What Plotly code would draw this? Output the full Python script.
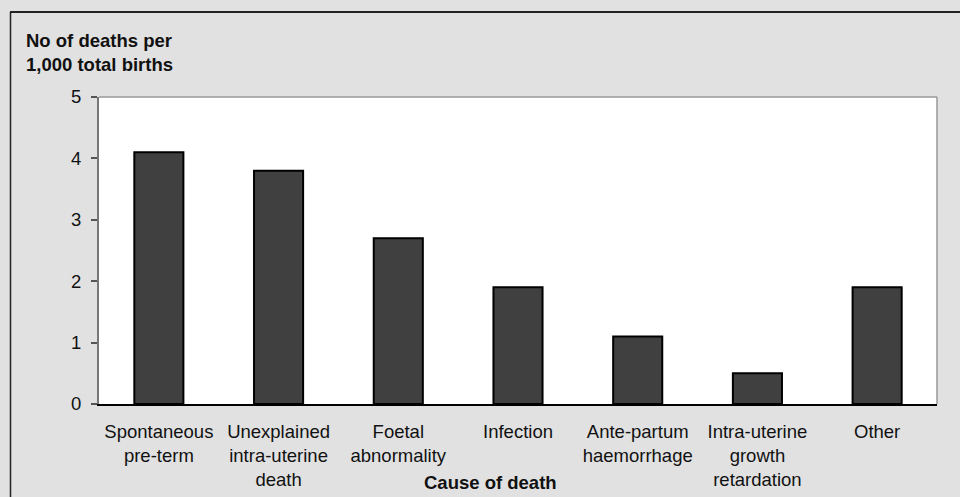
import plotly.graph_objects as go

# Causes of stillbirth / neonatal death and rates per 1,000 total births
causes = [
    "Spontaneous<br>pre-term",
    "Unexplained<br>intra-uterine<br>death",
    "Foetal<br>abnormality",
    "Infection",
    "Ante-partum<br>haemorrhage",
    "Intra-uterine<br>growth<br>retardation",
    "Other",
]
deaths_per_1000 = [4.1, 3.8, 2.7, 1.9, 1.1, 0.5, 1.9]
y_ticks = [0, 1, 2, 3, 4, 5]

W, H = 960, 497
ML, MR, MT, MB = 99, 23, 97, 93
PW, PH = W - ML - MR, H - MT - MB


def px_x(px):
    return (px - ML) / PW


def px_y(py):
    return (H - MB - py) / PH


FONT = "Liberation Sans, Arial, sans-serif"
FS = 18.5

fig = go.Figure(
    go.Bar(
        x=causes,
        y=deaths_per_1000,
        marker=dict(color="#404040", line=dict(color="#000000", width=2)),
        width=0.41,
    )
)

fig.update_layout(
    width=W,
    height=H,
    margin=dict(l=ML, r=MR, t=MT, b=MB, pad=0, autoexpand=False),
    paper_bgcolor="#e1e1e1",
    plot_bgcolor="#ffffff",
    showlegend=False,
    font=dict(family=FONT, size=FS, color="#111111"),
    xaxis=dict(
        showline=True,
        linecolor="#000000",
        linewidth=1.5,
        ticks="",
        showgrid=False,
        tickfont=dict(size=FS),
        ticklabelstandoff=10,
        automargin=False,
        fixedrange=True,
    ),
    yaxis=dict(
        range=[0, 5],
        tickvals=y_ticks,
        showline=True,
        linecolor="#777777",
        linewidth=2,
        ticks="outside",
        ticklen=6,
        tickcolor="#555555",
        tickwidth=1.5,
        showgrid=False,
        zeroline=False,
        tickfont=dict(size=FS),
        ticklabelstandoff=6,
        automargin=False,
        fixedrange=True,
    ),
    shapes=[
        # plot-area frame on top and right
        dict(type="line", xref="paper", yref="paper", x0=0, x1=1, y0=1, y1=1,
             line=dict(color="#999999", width=1.5)),
        dict(type="line", xref="paper", yref="paper", x0=1, x1=1, y0=0, y1=1,
             line=dict(color="#999999", width=1.5)),
        # outer chart frame
        dict(type="line", xref="paper", yref="paper",
             x0=px_x(10), x1=px_x(W + 5), y0=px_y(12), y1=px_y(12),
             line=dict(color="#222222", width=2)),
        dict(type="line", xref="paper", yref="paper",
             x0=px_x(10.5), x1=px_x(10.5), y0=px_y(12), y1=px_y(H + 5),
             line=dict(color="#222222", width=1.5)),
    ],
    annotations=[
        dict(text="<b>No of deaths per<br>1,000 total births</b>",
             xref="paper", yref="paper", x=px_x(24), y=px_y(28),
             xanchor="left", yanchor="top", align="left", showarrow=False,
             font=dict(size=FS, color="#111111")),
        dict(text="<b>Cause of death</b>",
             xref="paper", yref="paper", x=px_x(490), y=px_y(482),
             xanchor="center", yanchor="middle", showarrow=False,
             font=dict(size=FS, color="#111111")),
    ],
)

fig.write_html("out.html")
